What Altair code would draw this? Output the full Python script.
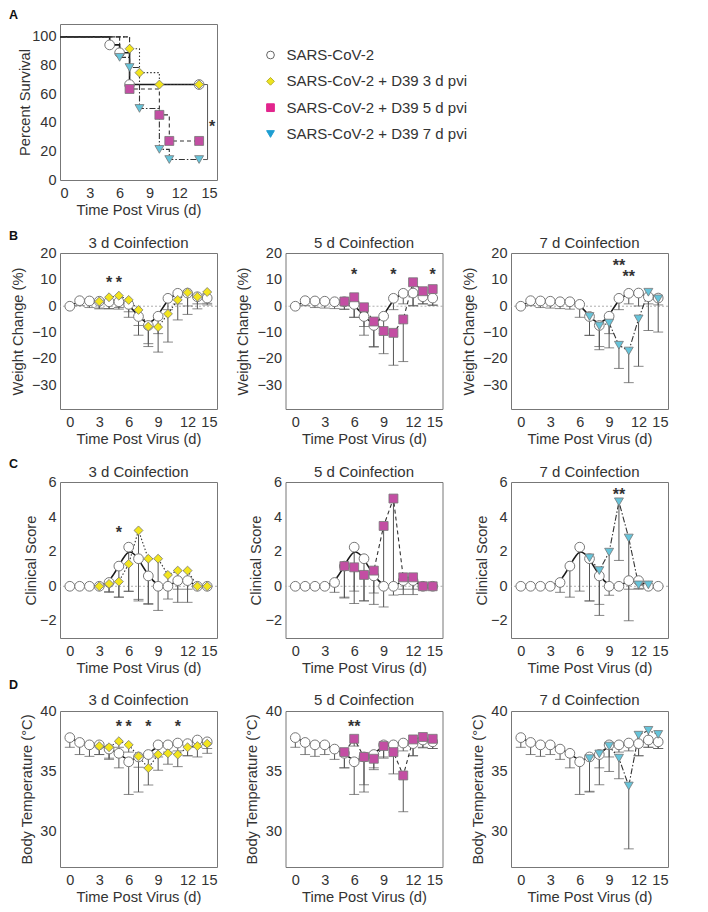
import altair as alt
import pandas as pd

FONT = "Liberation Sans"
TXT = "#333333"

# ---------------- categories / labels ----------------
SERIES = ["SARS-CoV-2", "SARS-CoV-2 + D39 3 d pvi",
          "SARS-CoV-2 + D39 5 d pvi", "SARS-CoV-2 + D39 7 d pvi"]
SHAPES = ["circle", "diamond", "square", "triangle-down"]
PLOT_FILLS = ["#ffffff", "#F3E51C", "#C34EA3", "#66C4DA"]
LEGEND_FILLS = ["#ffffff", "#EEE41E", "#E2258D", "#1E9ED2"]
LEGEND_STROKES = ["#666666", "#B8B02A", "#E2258D", "#1E9ED2"]
DASHES = [None, [1.5, 2], [4, 3], [6, 2, 1.5, 2]]
PANEL_LETTERS = ["A", "B", "C", "D"]
COLUMN_TITLES = ["3 d Coinfection", "5 d Coinfection", "7 d Coinfection"]
X_TICKS = [0, 3, 6, 9, 12, 15]
X_TITLE = "Time Post Virus (d)"
DAYS = list(range(15))

# ---------------- panel A: survival ----------------
SURV_DAYS = [[0, 5, 6, 7, 14],
             [0, 7, 8, 10, 14],
             [0, 7, 10, 11, 14],
             [0, 6, 7, 8, 10, 11, 14]]
SURV_VALUES = [[100, 94.4, 88.9, 66.7, 66.7],
               [100, 91.7, 75.0, 66.7, 66.7],
               [100, 63.6, 45.5, 27.3, 27.3],
               [100, 85.7, 78.6, 50.0, 21.4, 14.3, 14.3]]
SURV_BRACKET_DAY = 14.85
SURV_BRACKET_LEFT = 14.4
SURV_STAR_DAY = 15.3
SURV_STAR_Y = 40

# ---------------- weight change ----------------
WEIGHT_CTRL_MEAN = [0.0, 2.1, 2.0, 1.9, 1.7, 1.7, 0.7, -3.9, -7.3, -3.8, 3.0, 4.9, 5.0, 3.6, 3.1]
WEIGHT_CTRL_SD = [0.0, 1.9, 2.5, 2.6, 2.6, 2.8, 4.9, 7.1, 8.0, 6.6, 4.3, 4.0, 4.9, 2.7, 2.6]
WEIGHT_3D_DAYS = [3, 4, 5, 6, 7, 8, 9, 10, 11, 12, 13, 14]
WEIGHT_3D_MEAN = [1.8, 3.4, 4.0, 2.4, -1.4, -7.7, -7.9, -2.9, 2.4, 5.2, 3.6, 5.4]
WEIGHT_3D_SD = [2.8, 4.4, 4.5, 4.5, 5.9, 6.5, 9.5, 10.7, 7.6, 8.3, 4.6, 4.3]
WEIGHT_5D_DAYS = [5, 6, 7, 8, 9, 10, 11, 12, 13, 14]
WEIGHT_5D_MEAN = [1.8, 3.4, -0.4, -5.8, -9.4, -10.1, -5.0, 9.1, 5.7, 6.5]
WEIGHT_5D_SD = [3.0, 7.6, 7.3, 9.7, 8.6, 12.3, 16.0, 8.8, 4.8, 6.2]
WEIGHT_7D_DAYS = [7, 8, 9, 10, 11, 12, 13, 14]
WEIGHT_7D_MEAN = [-3.9, -7.5, -6.4, -14.8, -17.0, -4.8, 5.3, 2.8]
WEIGHT_7D_SD = [7.2, 9.0, 9.4, 8.8, 12.0, 18.0, 14.5, 12.6]
WEIGHT_STAR_DAYS = [[4, 5], [6, 10, 14], [10, 11]]
WEIGHT_STAR_Y = [[10.3, 10.3], [13.5, 13.5, 13.5], [16.9, 12.5]]
WEIGHT_STAR_TEXT = [["*", "*"], ["*", "*", "*"], ["**", "**"]]

# ---------------- clinical score ----------------
CLIN_CTRL_MEAN = [0, 0, 0, 0, 0.22, 1.17, 2.27, 1.6, 0.6, 0, 0, 0.33, 0.33, 0, 0]
CLIN_CTRL_SD = [0, 0, 0, 0, 0.57, 1.8, 2.55, 2.45, 1.65, 0, 0, 0.5, 0.5, 0, 0]
CLIN_3D_DAYS = [3, 4, 5, 6, 7, 8, 9, 10, 11, 12, 13, 14]
CLIN_3D_MEAN = [0, 0.14, 0.27, 1.3, 3.24, 1.6, 1.6, 0.66, 0.91, 0.91, 0, 0]
CLIN_3D_SD = [0, 0.45, 0.9, 1.6, 4.0, 2.6, 3.0, 1.4, 1.84, 1.84, 0, 0]
CLIN_5D_DAYS = [5, 6, 7, 8, 9, 10, 11, 12, 13, 14]
CLIN_5D_MEAN = [1.17, 1.1, 0.66, 0.91, 3.5, 5.09, 0.52, 0.52, 0, 0]
CLIN_5D_SD = [1.85, 2.1, 1.5, 1.3, 4.7, 5.6, 1.0, 1.0, 0, 0]
CLIN_7D_DAYS = [7, 8, 9, 10, 11, 12, 13]
CLIN_7D_MEAN = [1.65, 0.91, 1.98, 4.9, 2.8, 0.08, 0.08]
CLIN_7D_SD = [2.5, 2.6, 2.5, 3.4, 4.8, 0.2, 0.2]
CLIN_STAR_DAYS = [[5], [], [10]]
CLIN_STAR_Y = [[3.3], [], [5.5]]
CLIN_STAR_TEXT = [["*"], [], ["**"]]

# ---------------- body temperature ----------------
TEMP_CTRL_MEAN = [37.8, 37.4, 37.2, 37.2, 36.85, 36.5, 35.8, 36.2, 36.4, 37.2, 37.2, 37.35, 37.3, 37.6, 37.45]
TEMP_CTRL_SD = [0.8, 1.0, 0.95, 0.8, 0.85, 1.2, 2.7, 2.9, 1.1, 1.0, 0.6, 0.65, 1.0, 0.6, 0.55]
TEMP_3D_DAYS = [3, 4, 5, 6, 7, 8, 9, 10, 11, 12, 13, 14]
TEMP_3D_MEAN = [37.1, 37.0, 37.5, 37.2, 36.25, 35.28, 36.4, 36.5, 36.4, 37.0, 37.1, 37.3]
TEMP_3D_SD = [0.7, 0.9, 0.5, 0.6, 0.9, 1.4, 1.3, 0.9, 1.0, 0.7, 0.9, 0.8]
TEMP_5D_DAYS = [5, 6, 7, 8, 9, 10, 11, 12, 13, 14]
TEMP_5D_MEAN = [36.6, 37.7, 36.2, 36.05, 37.1, 36.6, 34.67, 37.65, 37.85, 37.7]
TEMP_5D_SD = [1.3, 0.6, 2.3, 0.9, 1.0, 1.8, 3.0, 1.35, 0.9, 0.8]
TEMP_7D_DAYS = [7, 8, 9, 10, 11, 12, 13, 14]
TEMP_7D_MEAN = [36.06, 36.45, 37.1, 36.1, 33.8, 38.0, 38.4, 38.06]
TEMP_7D_SD = [2.7, 2.55, 2.1, 1.7, 5.2, 1.7, 1.4, 1.16]
TEMP_STAR_DAYS = [[5, 6, 8, 11], [6], []]
TEMP_STAR_Y = [[39.0, 39.0, 39.0, 39.0], [39.0], []]
TEMP_STAR_TEXT = [["*", "*", "*", "*"], ["**"], []]

METRICS = [
    dict(title="Weight Change (%)", domain=[-39, 20.2], ticks=[-30, -20, -10, 0, 10, 20],
         titleX=-35, zero=True, letter_y=-23,
         ctrl_mean=WEIGHT_CTRL_MEAN, ctrl_sd=WEIGHT_CTRL_SD,
         co_days=[WEIGHT_3D_DAYS, WEIGHT_5D_DAYS, WEIGHT_7D_DAYS],
         co_mean=[WEIGHT_3D_MEAN, WEIGHT_5D_MEAN, WEIGHT_7D_MEAN],
         co_sd=[WEIGHT_3D_SD, WEIGHT_5D_SD, WEIGHT_7D_SD],
         star_days=WEIGHT_STAR_DAYS, star_y=WEIGHT_STAR_Y, star_text=WEIGHT_STAR_TEXT),
    dict(title="Clinical Score", domain=[-3, 6.05], ticks=[-2, 0, 2, 4, 6],
         titleX=-22, zero=True, letter_y=-24,
         ctrl_mean=CLIN_CTRL_MEAN, ctrl_sd=CLIN_CTRL_SD,
         co_days=[CLIN_3D_DAYS, CLIN_5D_DAYS, CLIN_7D_DAYS],
         co_mean=[CLIN_3D_MEAN, CLIN_5D_MEAN, CLIN_7D_MEAN],
         co_sd=[CLIN_3D_SD, CLIN_5D_SD, CLIN_7D_SD],
         star_days=CLIN_STAR_DAYS, star_y=CLIN_STAR_Y, star_text=CLIN_STAR_TEXT),
    dict(title="Body Temperature (\u00b0C)", domain=[27.1, 40], ticks=[30, 35, 40],
         titleX=-26, zero=False, letter_y=-32,
         ctrl_mean=TEMP_CTRL_MEAN, ctrl_sd=TEMP_CTRL_SD,
         co_days=[TEMP_3D_DAYS, TEMP_5D_DAYS, TEMP_7D_DAYS],
         co_mean=[TEMP_3D_MEAN, TEMP_5D_MEAN, TEMP_7D_MEAN],
         co_sd=[TEMP_3D_SD, TEMP_5D_SD, TEMP_7D_SD],
         star_days=TEMP_STAR_DAYS, star_y=TEMP_STAR_Y, star_text=TEMP_STAR_TEXT),
]

W, H = 157, 156
ROW_GAP = 73
COL_GAP = 68.5
LETTER_X = -51
ERR = "#555555"


def line_kwargs(si):
    kw = dict(color="#1a1a1a" if si == 0 else "#333333", strokeWidth=1.6 if si == 0 else 1.1)
    if DASHES[si] is not None:
        kw["strokeDash"] = DASHES[si]
    return kw


def point_kwargs(si, size):
    return dict(shape=SHAPES[si], filled=True, fill=PLOT_FILLS[si], stroke="#777777",
                strokeWidth=1 if si == 0 else 0.8, size=size, opacity=1)


def letter_layer(letter, y):
    return alt.Chart(pd.DataFrame({"t": [letter]})).mark_text(
        fontSize=12.5, fontWeight="bold", color="#111111", align="left", baseline="top", font=FONT
    ).encode(text="t:N", x=alt.value(LETTER_X), y=alt.value(y))


def next_letter(row_index):
    # letter of the following row, drawn in the gap below this panel
    if row_index + 1 < len(PANEL_LETTERS) and row_index < len(METRICS):
        return letter_layer(PANEL_LETTERS[row_index + 1], H + ROW_GAP + METRICS[row_index]["letter_y"])
    return None


def survival_panel():
    dom = [0, 15.8]
    x = alt.X("day:Q", scale=alt.Scale(domain=dom, nice=False, zero=False),
              axis=alt.Axis(values=X_TICKS, title=X_TITLE))
    x2 = alt.X2("day2:Q")

    def y(f):
        return alt.Y(f + ":Q", scale=alt.Scale(domain=[0, 109], nice=False, zero=False),
                     axis=alt.Axis(values=[0, 20, 40, 60, 80, 100], title="Percent Survival", titleX=-28))

    layers = []
    for si in range(4):
        df = pd.DataFrame({"day": SURV_DAYS[si], "pct": SURV_VALUES[si]})
        layers.append(alt.Chart(df).mark_line(interpolate="step-after", **line_kwargs(si))
                      .encode(x=x, y=y("pct")))
    top, bot = SURV_VALUES[0][-1], SURV_VALUES[3][-1]
    vb = pd.DataFrame({"day": [SURV_BRACKET_DAY], "pct": [top], "pct2": [bot]})
    layers.append(alt.Chart(vb).mark_rule(color=ERR, strokeWidth=1)
                  .encode(x=x, y=y("pct"), y2="pct2:Q"))
    hb = pd.DataFrame({"day": [SURV_BRACKET_LEFT] * 2, "day2": [SURV_BRACKET_DAY] * 2, "pct": [top, bot]})
    layers.append(alt.Chart(hb).mark_rule(color=ERR, strokeWidth=1)
                  .encode(x=x, x2=x2, y=y("pct")))
    st = pd.DataFrame({"day": [SURV_STAR_DAY], "pct": [SURV_STAR_Y], "t": ["*"]})
    layers.append(alt.Chart(st).mark_text(fontSize=16, fontWeight="bold", color=TXT, dy=4)
                  .encode(x=x, y=y("pct"), text="t:N"))
    for si in range(4):
        df = pd.DataFrame({"day": SURV_DAYS[si], "pct": SURV_VALUES[si]})
        df = df[df["day"] > 0]
        layers.append(alt.Chart(df).mark_point(**point_kwargs(si, 95 if si == 0 else 80))
                      .encode(x=x, y=y("pct")))
    layers.append(letter_layer(PANEL_LETTERS[0], -15))
    layers.append(next_letter(0))
    return alt.layer(*layers).properties(width=W, height=H)


def legend_cell():
    leg = pd.DataFrame({"label": SERIES})
    ly = alt.Y("label:N", sort=SERIES, axis=None,
               scale=alt.Scale(type="point", range=[31, 110], padding=0))
    pts = alt.Chart(leg).mark_point(filled=True, size=60, opacity=1, strokeWidth=1).encode(
        x=alt.value(-15), y=ly,
        shape=alt.Shape("label:N", scale=alt.Scale(domain=SERIES, range=SHAPES), legend=None),
        fill=alt.Fill("label:N", scale=alt.Scale(domain=SERIES, range=LEGEND_FILLS), legend=None),
        stroke=alt.Stroke("label:N", scale=alt.Scale(domain=SERIES, range=LEGEND_STROKES), legend=None),
    )
    txt = alt.Chart(leg).mark_text(align="left", baseline="middle", fontSize=15, color=TXT, font=FONT).encode(
        x=alt.value(1), y=ly, text="label:N")
    return alt.layer(pts, txt).properties(width=W, height=H, view=alt.ViewBackground(strokeOpacity=0))


def blank_cell():
    return alt.Chart(pd.DataFrame({"v": [0]})).mark_point(opacity=0).encode(
        x=alt.value(0), y=alt.value(0)).properties(width=W, height=H, view=alt.ViewBackground(strokeOpacity=0))


def metric_panel(mi, col):
    m = METRICS[mi]
    si = col + 1
    dom = [-1, 15]
    x = alt.X("day:Q", scale=alt.Scale(domain=dom, nice=False, zero=False),
              axis=alt.Axis(values=X_TICKS, title=X_TITLE))

    def y(f):
        return alt.Y(f + ":Q", scale=alt.Scale(domain=m["domain"], nice=False, zero=False),
                     axis=alt.Axis(values=m["ticks"], title=m["title"], titleX=m["titleX"]))

    ctrl = pd.DataFrame({"day": DAYS, "mean": m["ctrl_mean"], "sd": m["ctrl_sd"]})
    ctrl["lower"] = ctrl["mean"] - ctrl["sd"]
    co = pd.DataFrame({"day": m["co_days"][col], "mean": m["co_mean"][col], "sd": m["co_sd"][col]})
    co["lower"] = co["mean"] - co["sd"]

    layers = []
    if m["zero"]:
        layers.append(alt.Chart(pd.DataFrame({"mean": [0]})).mark_rule(
            color="#9a9a9a", strokeWidth=0.8, strokeDash=[2, 2]).encode(y=y("mean")))
    for df in (ctrl, co):
        d = df[df["sd"] > 0]
        layers.append(alt.Chart(d).mark_rule(color=ERR, strokeWidth=1)
                      .encode(x=x, y=y("mean"), y2="lower:Q"))
        layers.append(alt.Chart(d).mark_tick(color=ERR, orient="horizontal", size=10, thickness=1)
                      .encode(x=x, y=y("lower")))
    layers.append(alt.Chart(ctrl).mark_line(interpolate="basis", **line_kwargs(0))
                  .encode(x=x, y=y("mean")))
    layers.append(alt.Chart(co).mark_line(**line_kwargs(si)).encode(x=x, y=y("mean")))
    layers.append(alt.Chart(ctrl).mark_point(**point_kwargs(0, 95)).encode(x=x, y=y("mean")))
    layers.append(alt.Chart(co).mark_point(**point_kwargs(si, 80)).encode(x=x, y=y("mean")))
    if m["star_days"][col]:
        st = pd.DataFrame({"day": m["star_days"][col], "mean": m["star_y"][col], "t": m["star_text"][col]})
        layers.append(alt.Chart(st).mark_text(fontSize=16, fontWeight="bold", color=TXT, dy=4)
                      .encode(x=x, y=y("mean"), text="t:N"))
    if col == 0:
        nl = next_letter(mi + 1)
        if nl is not None:
            layers.append(nl)
    title = alt.TitleParams(COLUMN_TITLES[col], fontSize=15, font=FONT, fontWeight="normal",
                            color=TXT, offset=-5)
    return alt.layer(*layers).properties(width=W, height=H, title=title)


cells = [survival_panel(), legend_cell(), blank_cell()]
for mi in range(3):
    for col in range(3):
        cells.append(metric_panel(mi, col))

chart = alt.ConcatChart(
    concat=cells, columns=3, spacing={"row": ROW_GAP, "column": COL_GAP}, bounds="flush"
).properties(
    padding={"left": 0, "top": 0, "right": 2, "bottom": 2}
).configure(font=FONT).configure_view(
    stroke="#777777", strokeWidth=1
).configure_axis(
    domain=False, ticks=False, tickSize=0, grid=False, labelFont=FONT, titleFont=FONT,
    labelFontSize=14.5, titleFontSize=14.7, labelColor=TXT, titleColor=TXT,
    titleFontWeight="normal"
).configure_axisX(labelPadding=6, titlePadding=3).configure_axisY(labelPadding=4)

chart.save("out.html", embed_options={"renderer": "svg", "actions": False})
